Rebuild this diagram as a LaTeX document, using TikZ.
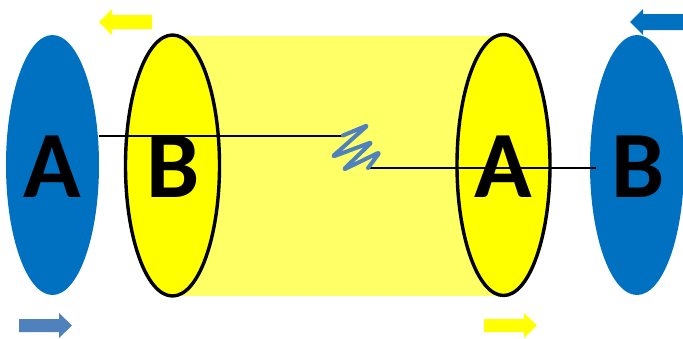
\documentclass[tikz,border=0pt]{standalone}
\usepackage{fontspec}
\setmainfont{Carlito}
\definecolor{dblue}{HTML}{0070C0}
\definecolor{sblue}{HTML}{4F81BD}
\definecolor{yel}{HTML}{FFFF00}
\definecolor{lyel}{HTML}{FFFF66}
\begin{document}
\begin{tikzpicture}[x=1pt,y=-1pt,
  letter/.style={font=\fontsize{95}{95}\selectfont\bfseries, inner sep=0pt, text=black},
  blueell/.style={fill=dblue, draw=none},
  yelell/.style={fill=yel, draw=black, line width=3.4pt},
  wire/.style={draw=black, line width=2pt}]
\useasboundingbox (0,0) rectangle (683,338);
% cylinder body
\fill[lyel] (172,35.5) rectangle (504,295.5);
% ellipses
\fill[blueell] (52.5,165) ellipse [x radius=46.5, y radius=130];
\draw[yelell] (172.5,165.5) ellipse [x radius=47, y radius=130.5];
\draw[yelell] (503.5,165) ellipse [x radius=46.5, y radius=130.5];
\fill[blueell] (637,165) ellipse [x radius=47, y radius=130];
% coordinates for wire
\coordinate (w1) at (99,135.5);
\coordinate (s1) at (343,135.5);
\coordinate (s2) at (368,168);
\coordinate (w2) at (596,168);
\draw[wire] (w1) -- (s1);
\draw[wire] (s2) -- (w2);
\draw[sblue, line width=4pt, line join=round, line cap=round, rounded corners=3pt]
  (s1) -- (368,125) -- (332,157) -- (372,142) -- (343,170) -- (380,152) -- (s2);
% letters
\node[letter] (a1) at (52.5,167) {A};
\node[letter] (b1) at (173,167) {B};
\node[letter] (a2) at (503.5,167) {A};
\node[letter] (b2) at (638,167) {B};
% arrows
\fill[yel] (99,22) -- (112,9) -- (112,15) -- (152,15) -- (152,29) -- (112,29) -- (112,35) -- cycle;
\fill[dblue] (630,22) -- (643,9) -- (643,14) -- (683,14) -- (683,30) -- (643,30) -- (643,35) -- cycle;
\fill[sblue] (72,325.5) -- (59,313) -- (59,319) -- (19,319) -- (19,332) -- (59,332) -- (59,338) -- cycle;
\fill[yel] (537,325.5) -- (524,313) -- (524,319) -- (484,319) -- (484,332) -- (524,332) -- (524,338) -- cycle;
\end{tikzpicture}
\end{document}
